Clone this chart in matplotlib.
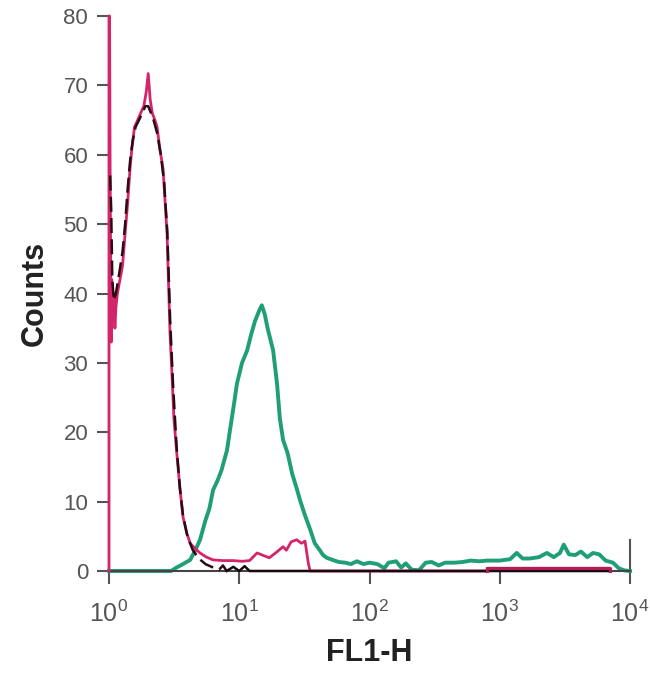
import matplotlib

matplotlib.use("Agg")
import matplotlib.pyplot as plt

plt.rcParams["font.family"] = ["Liberation Sans", "DejaVu Sans"]

# green: stained sample
green_x = [1.0, 3.0, 3.3, 3.7, 4.2, 4.6, 5.0, 5.5, 5.9, 6.3, 6.8, 7.3, 8.05, 8.6, 9.1,
           9.6, 10.5, 11.5, 12.3, 13.2, 14.2, 14.9, 15.7, 16.5, 18.2, 19.5, 20.5, 21.7,
           23.5, 25.5, 27.5, 29.3, 32, 35, 38, 41.5, 44, 47, 52, 58, 65, 72, 80, 90,
           100, 115, 130, 140, 160, 175, 190, 210, 240, 270, 300, 340, 380, 450, 520,
           600, 700, 800, 900, 1000, 1200, 1350, 1500, 1700, 2000, 2300, 2600, 2900,
           3100, 3400, 3800, 4200, 4700, 5200, 5800, 6500, 7400, 8200, 9000, 10000]
green_y = [0, 0, 0.5, 1.0, 1.6, 3, 4.5, 7.3, 9, 11.7, 13, 14.5, 17.4, 21, 24,
           27, 30, 31.8, 34, 36, 37.5, 38.3, 37, 35, 31.8, 27, 22, 18.9,
           17, 14, 12, 10.2, 8, 6, 4, 3.0, 2.3, 1.9, 1.6, 1.3, 1.2, 1.0, 1.4, 1.0,
           1.2, 1.0, 0.4, 1.2, 1.4, 0.5, 1.1, 0.2, 0.1, 1.2, 1.3, 0.8, 1.2, 1.2, 1.3,
           1.5, 1.4, 1.5, 1.5, 1.5, 1.7, 2.6, 1.8, 1.8, 2.0, 2.6, 2.0, 2.6,
           3.8, 2.4, 2.3, 2.8, 2.0, 2.6, 2.4, 1.5, 1.2, 0.4, 0.1, 0]

# pink: unstained cells
pink_x = [1.0, 1.0, 1.01, 1.02, 1.03, 1.04, 1.05, 1.07, 1.09, 1.11, 1.13, 1.16, 1.2,
          1.27, 1.33, 1.39, 1.45, 1.5, 1.57, 1.66, 1.75, 1.85, 1.93, 2.0, 2.07, 2.15,
          2.25, 2.34, 2.45, 2.6, 2.7, 2.79, 2.87, 2.94, 3.05, 3.15, 3.3, 3.5, 3.7,
          3.95, 4.2, 4.6, 5.0, 5.6, 6.3, 7.5, 9, 10.5, 12, 13.7, 15.5, 17, 19, 21.7,
          23, 25, 27.6, 30, 32, 33, 34, 35, 800, 800, 7000, 7000]
pink_y = [0, 80, 80, 58, 45, 33, 42, 36, 40, 35, 38, 40, 41.5,
          44, 48.7, 53, 58, 61, 64, 65, 66, 67, 69, 71.7, 68, 66,
          65, 64, 61, 58, 53, 48.7, 41, 34.3, 28, 22, 17.4, 12, 7.8,
          5.5, 4.0, 3.2, 2.6, 2.0, 1.6, 1.5, 1.5, 1.4, 1.5, 2.6, 2.2, 1.9, 2.6, 3.5,
          3.0, 4.2, 4.5, 4.0, 4.3, 2.6, 1.0, 0, 0, 0.4, 0.4, 0]

# black dashed: isotype control
black_x = [1.02, 1.04, 1.06, 1.09, 1.13, 1.2, 1.27, 1.33, 1.39, 1.45, 1.52, 1.6, 1.7,
           1.8, 1.9, 2.0, 2.1, 2.2, 2.35, 2.5, 2.65, 2.8, 2.95, 3.1, 3.3, 3.5, 3.7,
           4.0, 4.4, 4.9, 5.5, 6.3, 7, 7.5, 8, 9, 10, 11, 12, 7000]
black_y = [57, 52, 42, 39, 40, 43, 46, 50, 55, 59, 62, 64, 65,
           66, 67, 67, 66, 65, 63, 60, 56, 49, 36, 27, 18, 12, 8,
           5, 3, 1.8, 1, 0.5, 0.2, 0.8, 0, 0.6, 0, 0.7, 0, 0]

fig = plt.figure(figsize=(6.5, 6.85), dpi=100, facecolor="white")
ax = fig.add_axes([109 / 650, 114 / 685, 521 / 650, 555 / 685])

ax.plot(green_x, green_y, color="#1f9e78", lw=2.8, clip_on=False, zorder=2)
ax.plot(pink_x, pink_y, color="#d4246a", lw=2.0, clip_on=False, zorder=3)
# dashed over the peak, solid along the baseline
cut = black_x.index(8)
ax.plot(black_x[:cut + 1], black_y[:cut + 1], color="#2b0a14", lw=1.8,
        ls=(0, (6, 2.5)), clip_on=False, zorder=4)
ax.plot(black_x[cut:], black_y[cut:], color="#1a0a0f", lw=1.8,
        clip_on=False, zorder=4)
ax.plot(pink_x[-4:], pink_y[-4:], color="#b01e55", lw=2.2, clip_on=False, zorder=5)
ax.plot([1e4, 1e4], [0, 4.5], color="#555555", lw=1.5, clip_on=False, zorder=1)

ax.set_xscale("log")
ax.set_xlim(1, 1e4)
ax.set_ylim(0, 80)
ax.set_xticks([1, 10, 100, 1000, 10000])
ax.set_xticklabels([r"$\mathregular{10^{%d}}$" % i for i in range(5)])
ax.minorticks_off()
ax.set_yticks(range(0, 81, 10))

for side in ["top", "right"]:
    ax.spines[side].set_visible(False)
for side in ["left", "bottom"]:
    ax.spines[side].set_color("#444444")
    ax.spines[side].set_linewidth(1.5)

ax.tick_params(axis="both", length=9, width=1.5, color="#555555",
               labelcolor="#555555")
ax.tick_params(axis="x", pad=12, labelsize=18)
ax.tick_params(axis="y", pad=6, labelsize=16)

ax.set_xlabel("FL1-H", fontsize=22, fontweight="bold", color="#222222", labelpad=8)
ax.set_ylabel("Counts", fontsize=22, fontweight="bold", color="#222222", labelpad=10)

fig.savefig("out.png", dpi=100)
